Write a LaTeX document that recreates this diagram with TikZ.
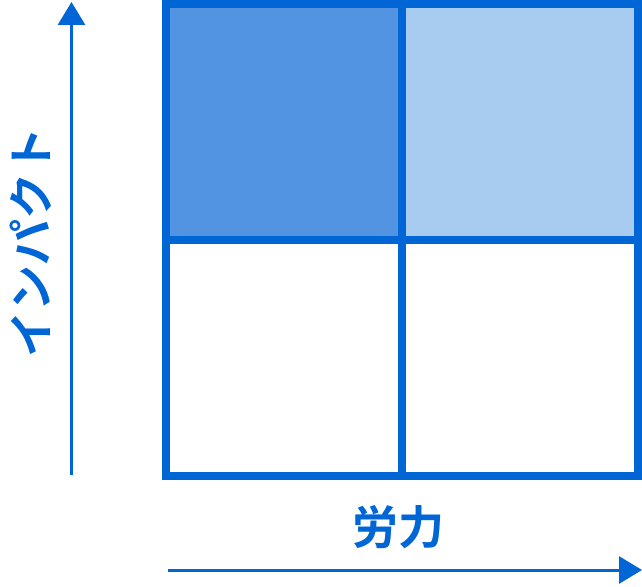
\documentclass[tikz,border=0pt]{standalone}
\usepackage{fontspec}
\usepackage{xcolor}
\usepackage{tikz}
\usetikzlibrary{arrows.meta,positioning,calc}
\newfontfamily\cjk{Noto Sans CJK JP}[BoldFont={Noto Sans CJK JP Bold}]
\definecolor{gridblue}{RGB}{0,102,214}
\definecolor{cellmid}{RGB}{82,148,226}
\definecolor{celllight}{RGB}{168,203,240}

\begin{document}
\begin{tikzpicture}[x=1pt, y=-1pt, >={Triangle[width=27pt,length=23pt]}]
    \tikzstyle{cell} = [draw=gridblue, line width=8pt, minimum width=236pt, minimum height=236pt, inner sep=0pt, fill=white]
    \tikzstyle{axis} = [draw=gridblue, line width=3pt, ->]
    \tikzstyle{lbl} = [text=gridblue, font=\cjk\bfseries\fontsize{46}{46}\selectfont, inner sep=0pt]

    \useasboundingbox (0,0) rectangle (642,586);

    \node [cell, fill=cellmid] (hi-lo) at (284,122) {};
    \node [cell, fill=celllight] (hi-hi) at (520,122) {};
    \node [cell] (lo-lo) at (284,358) {};
    \node [cell] (lo-hi) at (520,358) {};

    \coordinate (yfoot) at (71.5,475);
    \coordinate (ytip) at (71.5,2);
    \coordinate (xfoot) at (168,570);
    \coordinate (xtip) at (642,570);

    \draw [axis] (yfoot) -- (ytip);
    \draw [axis] (xfoot) -- (xtip);

    \node [lbl, rotate=90] (impact) at (31,242) {インパクト};
    \node [lbl] (effort) at (398,527) {労力};
\end{tikzpicture}
\end{document}
